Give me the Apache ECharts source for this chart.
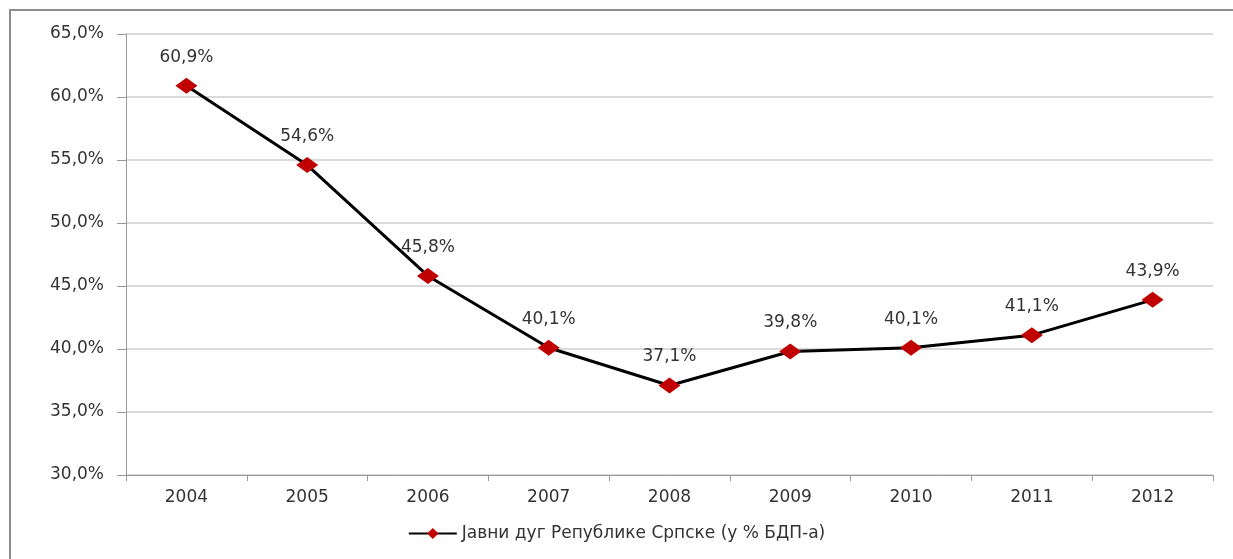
<!DOCTYPE html>
<html>
<head>
<meta charset="utf-8">
<script src="https://cdn.jsdelivr.net/npm/echarts@6/dist/echarts.min.js"></script>
<style>
  html, body { margin: 0; padding: 0; background: #fff; }
  #chart { width: 1233px; height: 559px; }
</style>
</head>
<body>
<div id="chart"></div>
<script>
const years = ['2004', '2005', '2006', '2007', '2008', '2009', '2010', '2011', '2012']
const debtShare = [60.9, 54.6, 45.8, 40.1, 37.1, 39.8, 40.1, 41.1, 43.9]
const seriesName = 'Јавни дуг Републике Српске (у % БДП-а)'

// 60.9 -> "60,9%"
const fmt = v => v.toFixed(1).replace('.', ',') + '%'

const textFont = { fontFamily: 'DejaVu Sans', fontSize: 17, color: '#333' }

const myChart = echarts.init(document.getElementById('chart'))
myChart.setOption({
  animation: false,
  graphic: [
    {
      type: 'rect',
      shape: { x: 10, y: 10, width: 1400, height: 700 },
      style: { fill: 'none', stroke: '#8c8c8c', lineWidth: 2 },
      silent: true
    }
  ],
  grid: { left: 126, right: 20, top: 34, bottom: 84 },
  legend: {
    bottom: 12,
    left: 'center',
    itemWidth: 48,
    itemHeight: 14,
    itemGap: 6,
    textStyle: textFont,
    data: [seriesName]
  },
  xAxis: {
    type: 'category',
    data: years,
    boundaryGap: true,
    axisLine: { lineStyle: { color: '#999', width: 1 } },
    axisTick: { show: true, length: 6, lineStyle: { color: '#999' } },
    axisLabel: { ...textFont, margin: 14 }
  },
  yAxis: {
    type: 'value',
    min: 30,
    max: 65,
    interval: 5,
    axisLine: { show: true, lineStyle: { color: '#999', width: 1 } },
    axisTick: { show: true, length: 9, lineStyle: { color: '#999' } },
    splitLine: { lineStyle: { color: '#dadada', width: 2 } },
    axisLabel: { ...textFont, margin: 22, formatter: fmt }
  },
  series: [
    {
      name: seriesName,
      type: 'line',
      data: debtShare,
      symbol: 'diamond',
      symbolSize: [22, 16],
      itemStyle: { color: '#c00000' },
      lineStyle: { color: '#000', width: 3 },
      label: {
        show: true,
        position: 'top',
        distance: 12,
        ...textFont,
        formatter: p => fmt(p.value)
      }
    }
  ]
})
</script>
</body>
</html>
